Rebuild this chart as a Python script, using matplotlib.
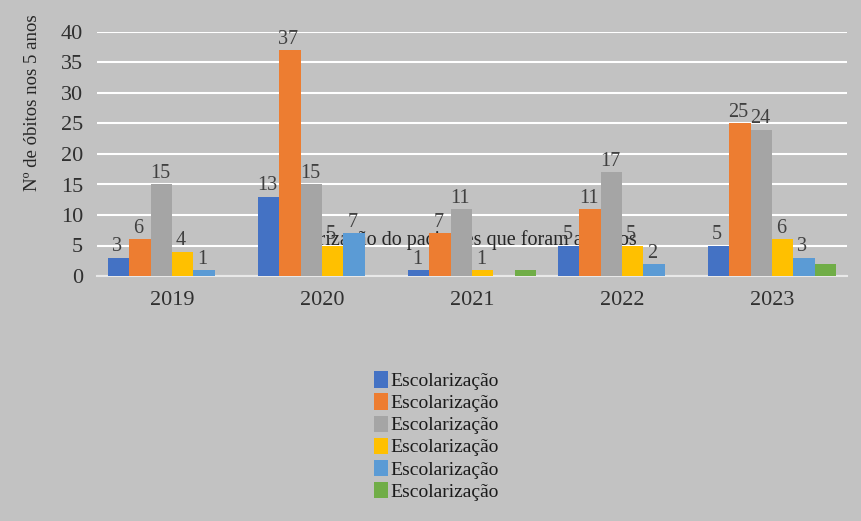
import matplotlib.pyplot as plt
import numpy as np

plt.rcParams['font.family'] = ['Liberation Serif', 'DejaVu Serif']

anos = ['2019', '2020', '2021', '2022', '2023']
serie1 = [3, 13, 1, 5, 5]
serie2 = [6, 37, 7, 11, 25]
serie3 = [15, 15, 11, 17, 24]
serie4 = [4, 5, 1, 5, 6]
serie5 = [1, 7, 0, 2, 3]
serie6 = [0, 0, 1, 0, 2]
series = [serie1, serie2, serie3, serie4, serie5, serie6]
nomes = ['Escolarização'] * 6
cores = ['#4472C4', '#ED7D31', '#A5A5A5', '#FFC000', '#5B9BD5', '#70AD47']
# a ultima serie fica sem rotulo de valor
mostra_rotulo = [True, True, True, True, True, False]

fundo = '#c2c2c2'
fig = plt.figure(figsize=(8.61, 5.21), dpi=100, facecolor=fundo)
ax = fig.add_axes([97/861, 245/521, 750/861, 244/521])
ax.set_facecolor(fundo)

x = np.arange(len(anos))
largura = 0.142
for k, (vals, cor) in enumerate(zip(series, cores)):
    pos = x + (k - 2.5) * largura
    ax.bar(pos, vals, largura, color=cor, label=nomes[k], zorder=3)
    if mostra_rotulo[k]:
        for p, v in zip(pos, vals):
            if v > 0:
                ax.text(p - 0.01, v + 0.2, str(v), ha='center', va='bottom',
                        fontsize=14.5, color='#404040', zorder=5)

# titulo que ficou atras das barras
ax.text(1.86, 5.9, 'Escolarização do pacientes que foram a óbitos',
        ha='center', va='center', fontsize=14.5, color='#262626', zorder=1)

ax.set_xlim(-0.5, 4.5)
ax.set_ylim(0, 40)
ax.set_yticks(range(0, 41, 5))
ax.set_xticks(x)
ax.set_xticklabels(anos)
ax.grid(axis='y', color='white', linewidth=1.5, zorder=0)
ax.set_axisbelow(True)
for lado in ['top', 'right', 'left']:
    ax.spines[lado].set_visible(False)
ax.spines['bottom'].set_color('#e8e8e8')
ax.spines['bottom'].set_linewidth(1.5)
ax.tick_params(length=0, labelsize=16, labelcolor='#303030')
ax.tick_params(axis='x', pad=11)
ax.tick_params(axis='y', pad=10)

fig.text(33/861, 1 - 103/521, 'Nº de óbitos nos 5 anos', rotation=90,
         ha='center', va='center', fontsize=13.5, color='#262626')

fig.legend(loc='center', bbox_to_anchor=(436/861, 1 - 436/521), frameon=False,
           fontsize=14, handlelength=0.75, handleheight=0.9, handletextpad=0.1,
           labelspacing=0.17, labelcolor='#1a1a1a')

plt.savefig('out.png', dpi=100, facecolor=fundo)
